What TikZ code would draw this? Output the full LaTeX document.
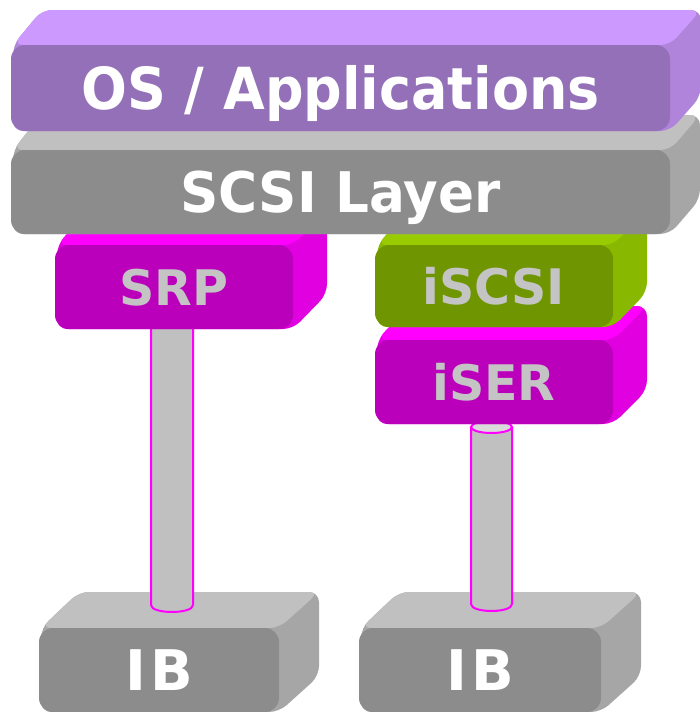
\documentclass[tikz,border=0pt]{standalone}
\usepackage{fontspec}
\usepackage{graphicx}
\usetikzlibrary{calc}
\newfontfamily\lblfont{DejaVu Sans}
\definecolor{osF}{HTML}{9370B8}
\definecolor{osT}{HTML}{CC99FF}
\definecolor{osS}{HTML}{B084DA}
\definecolor{gyF}{HTML}{8C8C8C}
\definecolor{gyT}{HTML}{C0C0C0}
\definecolor{gyS}{HTML}{A6A6A6}
\definecolor{mgF}{HTML}{BB00BB}
\definecolor{mgT}{HTML}{FF00FF}
\definecolor{mgS}{HTML}{E000E0}
\definecolor{grF}{HTML}{6F9500}
\definecolor{grT}{HTML}{99CC00}
\definecolor{grS}{HTML}{88B800}
\definecolor{txtgray}{HTML}{C4C4C4}
\definecolor{capgray}{HTML}{DADADA}
\tikzset{
  front/.style={rounded corners=14, inner sep=0pt, text depth=0pt},
  osTxt/.style={text=white, font=\lblfont\bfseries\fontsize{58}{60}\selectfont, text height=42pt},
  gyTxt/.style={text=white, font=\lblfont\bfseries\fontsize{56}{58}\selectfont, text height=41pt},
  mgTxt/.style={text=txtgray, font=\lblfont\bfseries\fontsize{49}{51}\selectfont, text height=36pt},
  grTxt/.style={mgTxt},
  backface/.style={rounded corners=10},
  pipebody/.style={fill=gyT},
  pipeline/.style={draw=mgT, line width=2pt},
}
% #1 name, #2 cx, #3 cy, #4 w, #5 h, #6 dx, #7 dy, #8 colour prefix, #9 text
\newcommand\blk[9]{%
  \pgfmathsetmacro\bxl{#2-(#4)/2}%
  \pgfmathsetmacro\bxr{#2+(#4)/2}%
  \pgfmathsetmacro\byt{#3-(#5)/2}%
  \pgfmathsetmacro\byb{#3+(#5)/2}%
  \pgfmathsetmacro\bxlo{\bxl+#6}%
  \pgfmathsetmacro\bxro{\bxr+#6}%
  \pgfmathsetmacro\byto{\byt-#7}%
  \pgfmathsetmacro\bybo{\byb-#7}%
  \fill[#8S, backface] (\bxl+2,\byt) -- (\bxlo,\byto) -- (\bxro,\byto) -- (\bxro,\bybo) -- (\bxr,\byb) -- (\bxl+2,\byb) -- cycle;
  \fill[#8T, backface] (\bxl+2,\byt) -- (\bxlo,\byto) -- (\bxro,\byto) -- (\bxr,\byt) -- cycle;
  \node[front, fill=#8F, #8Txt, minimum width=#4pt, minimum height=#5pt] (#1) at (#2,#3) {#9};
}
\begin{document}
\begin{tikzpicture}[x=1pt,y=-1pt]
\useasboundingbox (0,0) rectangle (700,712);
\clip (0,0) rectangle (700,712);
% IB blocks
\blk{ibl}{159}{670}{240}{84}{40}{36}{gy}{I\kern4pt B}
\blk{ibr}{480}{670}{242}{84}{40}{36}{gy}{I\kern4pt B}
% pipes
\coordinate (pl1) at (151,320);
\coordinate (pl2) at (151,605);
\coordinate (pl3) at (193,605);
\coordinate (pl4) at (193,320);
\fill[pipebody] (pl1) -- (pl2) .. controls (151,614.3) and (193,614.3) .. (pl3) -- (pl4) -- cycle;
\draw[pipeline] (pl1) -- (pl2) .. controls (151,614.3) and (193,614.3) .. (pl3) -- (pl4);
\coordinate (pr1) at (471,427);
\coordinate (pr2) at (471,604);
\coordinate (pr3) at (512,604);
\coordinate (pr4) at (512,427);
\fill[pipebody] (pr1) -- (pr2) .. controls (471,613.3) and (512,613.3) .. (pr3) -- (pr4) -- cycle;
\draw[pipeline] (pr1) -- (pr2) .. controls (471,613.3) and (512,613.3) .. (pr3) -- (pr4);
\filldraw[fill=capgray, pipeline] (491.5,427) ellipse [x radius=20.5, y radius=6];
% middle blocks
\blk{srp}{174}{287}{238}{84}{34}{35}{mg}{SRP}
\blk{iser}{494}{382}{238}{84}{34}{34}{mg}{iSER}
\blk{iscsi}{494}{286}{238}{82}{34}{35}{gr}{iSCSI}
% top blocks
\blk{scsi}{340.5}{192}{659}{84}{30}{35}{gy}{\scalebox{0.95}[1]{SCSI Layer}}
\blk{os}{340.5}{88}{659}{86}{31}{35}{os}{\scalebox{0.93}[1]{OS / Applications}}
\end{tikzpicture}
\end{document}
